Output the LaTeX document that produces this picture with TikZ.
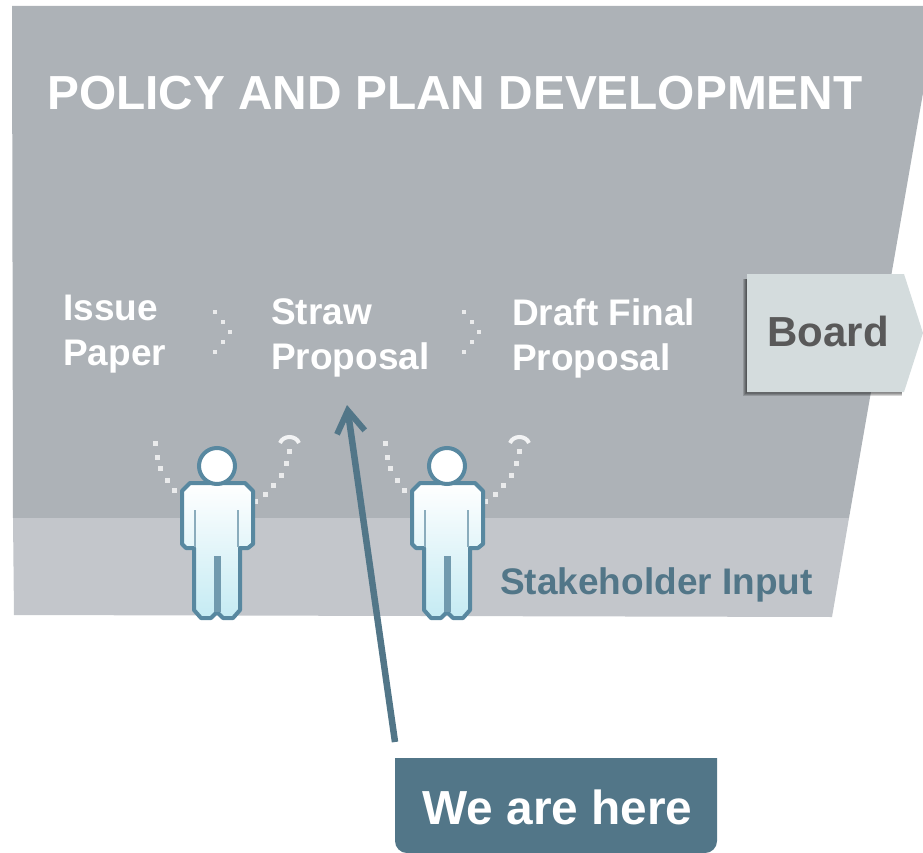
\documentclass[tikz,border=0pt]{standalone}
\usepackage{fontspec}
\setmainfont{Liberation Sans}
\usetikzlibrary{arrows.meta}

\begin{document}
\begin{tikzpicture}[x=1pt,y=-1pt]

    \definecolor{mygray}{RGB}{173, 178, 183}
    \definecolor{mylightgray}{RGB}{195, 198, 203}
    \definecolor{myboard}{RGB}{212, 220, 221}
    \definecolor{myblue}{RGB}{82, 118, 136}
    \definecolor{myoutline}{RGB}{88, 136, 160}
    \definecolor{mycyan}{RGB}{197, 235, 243}
    \tikzset{
        steplabel/.style={anchor=west, align=left, text=white, font=\fontsize{37}{45}\selectfont\bfseries},
        dotmark/.style={white, opacity=0.75}
    }
    \useasboundingbox (0,0) rectangle (923,853);

    % background
    \fill [mygray] (12,6) -- (923,6) -- (923,93) -- (849,518) -- (13,518) -- cycle;
    \fill [mylightgray] (13,518) -- (849,518) -- (832,617) -- (14,615) -- cycle;
    \node (title) at (47,93) [anchor=west, text=white, inner sep=0pt, font=\fontsize{47.8}{50}\selectfont\bfseries] {POLICY AND PLAN DEVELOPMENT};
    \node (input) at (500,585) [anchor=west, text=myblue, inner sep=0pt, font=\fontsize{37}{45}\selectfont\bfseries] {Stakeholder Input};

    % steps
    \node (issue) at (63,334) [steplabel, inner sep=0pt] {Issue\\Paper};
    \node (straw) at (271,338) [steplabel, inner sep=0pt] {Straw\\Proposal};
    \node (draft) at (512,338) [steplabel, inner sep=0pt] {Draft Final\\Proposal};
    \foreach \ox in {0,249} {
        \foreach \px/\py in {215/312, 223/322, 230/332, 223/342, 215/352} {
            \fill [dotmark] (\px+\ox-2,\py-2) rectangle ++(4,4);
        }
    }

    % board
    \foreach \sh in {0,1,2,3,4} {
        \fill [black, opacity=0.16] (747-\sh,279) rectangle (902,392+\sh);
    }
    \fill [myboard] (747,274) -- (904,274) -- (923,333) -- (904,392) -- (747,392) -- cycle;
    \node (board) at (828,331) [text=black!65, inner sep=0pt, font=\fontsize{42}{45}\selectfont\bfseries] {Board};

    % stakeholders
    \foreach \ox in {0,230} {
    \begin{scope}[xshift=\ox pt]
        \foreach \px/\py in {155/443, 157/457, 160/468, 167/480, 174/490, 255/501, 265/494, 273/485, 281/475, 286/463, 289/451} {
            \fill [dotmark] (\px-2.5,\py-2.5) rectangle ++(5,5);
        }
        \draw [white, line width=4pt, opacity=0.85] (280,443) .. controls (283,435) and (296,435) .. (299,443);
        \draw [myoutline, line width=4pt, top color=white, bottom color=mycyan, line join=round]
            (190,483) -- (245,483) -- (253,491) -- (253,544) -- (248,548) -- (240,548) -- (240,610) -- (233,618) -- (223,618) -- (217,612)
            -- (211,618) -- (201,618) -- (194,610) -- (194,548) -- (186,548) -- (182,544) -- (182,491) -- cycle;
        \draw [myoutline, line width=4pt, fill=white] (217,466) circle (18);
        \draw [myoutline!70, line width=2.5pt] (195,510) -- (195,547) (238,510) -- (238,547);
        \draw [myoutline!85, line width=7pt] (217,556) -- (217,612);
    \end{scope}
    }

    % marker
    \fill [myblue] (395,758) -- (717,758) [rounded corners=12pt] -- (717,853) -- (395,853) [sharp corners] -- cycle;
    \node (here) at (557.5,807) [text=white, inner sep=0pt, font=\fontsize{47.8}{50}\selectfont\bfseries] {We are here};
    \coordinate (start) at (395,742);
    \coordinate (tip) at (347,405);
    \draw [-{Straight Barb[length=22pt, width=28pt, line width=6pt]}, myblue, line width=6.5pt] (start) -- (tip);

\end{tikzpicture}
\end{document}
